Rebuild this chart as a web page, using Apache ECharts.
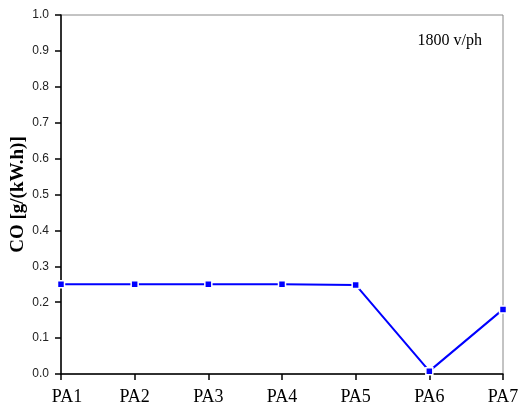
<!DOCTYPE html>
<html>
<head>
<meta charset="utf-8">
<script src="https://cdn.jsdelivr.net/npm/echarts@6/dist/echarts.min.js"></script>
<style>
  html, body { margin: 0; padding: 0; background: #fff; }
  #chart { width: 525px; height: 410px; }
</style>
</head>
<body>
<div id="chart"></div>
<script>
// Pattern categories along the x axis
const categories = ['PA1', 'PA2', 'PA3', 'PA4', 'PA5', 'PA6', 'PA7'];
// CO emission per pattern, g/(kW.h)
const coValues = [0.25, 0.25, 0.25, 0.25, 0.248, 0.008, 0.18];
// Y axis range and step
const yMin = 0, yMax = 1.0, yStep = 0.1;
const flowLabel = '1800 v/ph';

const chart = echarts.init(document.getElementById('chart'), null, { renderer: 'canvas' });

chart.setOption({
  animation: false,
  backgroundColor: '#fff',
  grid: {
    left: 61, right: 22, top: 15, bottom: 36,
    outerBoundsMode: 'none',
    containLabel: false,
    show: true, borderColor: '#888', borderWidth: 1
  },
  xAxis: {
    type: 'category',
    data: categories,
    boundaryGap: false,
    axisLine: { lineStyle: { color: '#000', width: 1.5 } },
    axisTick: { show: true, alignWithLabel: true, interval: 0, length: 6, lineStyle: { color: '#000', width: 1.5 } },
    axisLabel: {
      interval: 0,
      hideOverlap: false,
      fontFamily: 'Liberation Serif, Times New Roman, serif',
      fontSize: 18, color: '#000', margin: 14,
      // first label sits a little right of its tick
      formatter: (v, i) => i === 0 ? '{first|' + v + '}' : v,
      rich: {
        first: {
          fontFamily: 'Liberation Serif, Times New Roman, serif',
          fontSize: 18, color: '#000', padding: [0, 0, 0, 12]
        }
      }
    },
    splitLine: { show: false }
  },
  yAxis: {
    type: 'value',
    min: yMin, max: yMax, interval: yStep,
    name: 'CO [g/(kW.h)]',
    nameLocation: 'middle',
    nameGap: 33,
    nameMoveOverlap: false,
    nameTextStyle: {
      fontFamily: 'Liberation Serif, Times New Roman, serif',
      fontWeight: 'bold', fontSize: 19, color: '#000'
    },
    axisLine: { show: true, lineStyle: { color: '#000', width: 1.5 } },
    axisTick: { show: true, length: 6, lineStyle: { color: '#000', width: 1.5 } },
    axisLabel: {
      fontFamily: 'Liberation Sans, Arial, sans-serif',
      fontSize: 12, color: '#222', margin: 12,
      formatter: v => v.toFixed(1)
    },
    splitLine: { show: false }
  },
  graphic: [{
    type: 'text',
    right: 43, top: 33,
    style: {
      text: flowLabel,
      font: '16px "Liberation Serif", "Times New Roman", serif',
      fill: '#000'
    }
  }],
  series: [{
    type: 'line',
    data: coValues,
    symbol: 'rect',
    symbolSize: 7,
    clip: false,
    lineStyle: { color: '#0000ff', width: 2 },
    itemStyle: { color: '#0000ff', borderColor: '#fff', borderWidth: 1.5 }
  }]
});
</script>
</body>
</html>
